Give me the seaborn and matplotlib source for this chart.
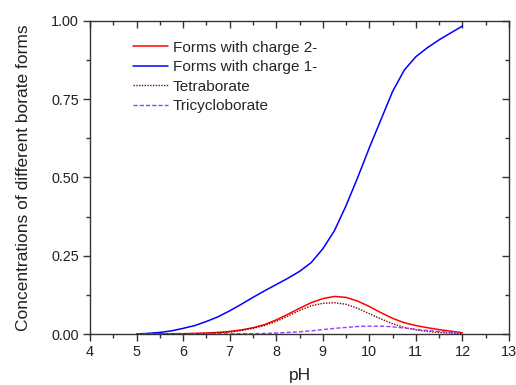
import matplotlib
matplotlib.use("Agg")
import matplotlib.pyplot as plt
from matplotlib.ticker import MultipleLocator, FormatStrFormatter
import seaborn as sns
import pandas as pd

pH = [5.0, 5.25, 5.5, 5.75, 6.0, 6.25, 6.5, 6.75, 7.0, 7.25, 7.5, 7.75, 8.0, 8.25,
      8.5, 8.75, 9.0, 9.25, 9.5, 9.75, 10.0, 10.25, 10.5, 10.75, 11.0, 11.25, 11.5,
      11.75, 12.0]
charge2 = [0.0, 0.0002, 0.0005, 0.0008, 0.001, 0.002, 0.003, 0.005, 0.008, 0.013,
           0.020, 0.030, 0.045, 0.063, 0.082, 0.100, 0.113, 0.120, 0.117, 0.105,
           0.088, 0.068, 0.050, 0.036, 0.027, 0.020, 0.014, 0.009, 0.004]
charge1 = [0.0, 0.002, 0.005, 0.010, 0.018, 0.027, 0.040, 0.055, 0.074, 0.095,
           0.117, 0.138, 0.158, 0.178, 0.200, 0.228, 0.272, 0.33, 0.41, 0.50,
           0.595, 0.685, 0.775, 0.843, 0.886, 0.915, 0.94, 0.962, 0.984]
tetraborate = [0.0, 0.0, 0.0001, 0.0003, 0.0005, 0.001, 0.002, 0.004, 0.006, 0.011,
               0.018, 0.027, 0.040, 0.057, 0.075, 0.090, 0.098, 0.100, 0.095, 0.082,
               0.065, 0.048, 0.033, 0.021, 0.013, 0.008, 0.005, 0.003, 0.001]
tricycloborate = [0.0, 0.0, 0.0, 0.0, 0.0001, 0.0002, 0.0003, 0.0004, 0.0005, 0.0008,
                  0.001, 0.002, 0.003, 0.005, 0.007, 0.010, 0.014, 0.018, 0.021, 0.024,
                  0.025, 0.025, 0.023, 0.019, 0.015, 0.011, 0.008, 0.005, 0.002]
labels = ["Forms with charge 2-", "Forms with charge 1-", "Tetraborate", "Tricycloborate"]

series = [charge2, charge1, tetraborate, tricycloborate]
df = pd.concat([pd.DataFrame({"pH": pH, "conc": s, "form": lab})
                for s, lab in zip(series, labels)], ignore_index=True)

sns.set_style("ticks")
plt.rcParams["font.family"] = ["Liberation Sans", "DejaVu Sans"]

fig = plt.figure(figsize=(5.16, 3.85), dpi=100)
ax = fig.add_axes([90/516, 1-334/385, 419/516, 313/385])

styles = {
    labels[0]: dict(color="#ff0000", linestyle="-", linewidth=1.1),
    labels[1]: dict(color="#0000ff", linestyle="-", linewidth=1.1),
    labels[2]: dict(color="#800000", linestyle=(0, (1, 1)), linewidth=1.0),
    labels[3]: dict(color="#9a3cff", linestyle=(0, (3, 1.5)), linewidth=1.0),
}
for lab in labels:
    sns.lineplot(data=df[df["form"] == lab], x="pH", y="conc", ax=ax, label=lab,
                 **styles[lab])

ax.set_xlim(4, 13)
ax.set_ylim(0, 1.0)
ax.xaxis.set_major_locator(MultipleLocator(1))
ax.xaxis.set_minor_locator(MultipleLocator(0.5))
ax.yaxis.set_major_locator(MultipleLocator(0.25))
ax.yaxis.set_minor_locator(MultipleLocator(0.125))
ax.yaxis.set_major_formatter(FormatStrFormatter("%.2f"))

for sp in ax.spines.values():
    sp.set_visible(True)
    sp.set_linewidth(1.0)
    sp.set_color("#333333")

ax.tick_params(which="major", direction="out", length=5, width=1, labelsize=10.4,
               colors="#333333", labelcolor="#222222", pad=3)
ax.tick_params(which="minor", direction="out", length=3, width=1, colors="#333333")

top = ax.secondary_xaxis("top")
top.xaxis.set_major_locator(MultipleLocator(1))
top.xaxis.set_minor_locator(MultipleLocator(0.5))
top.tick_params(which="major", direction="in", length=5, width=1, labeltop=False, colors="#333333")
top.tick_params(which="minor", direction="in", length=3, width=1, colors="#333333")
top.spines["top"].set_visible(False)
right = ax.secondary_yaxis("right")
right.yaxis.set_major_locator(MultipleLocator(0.25))
right.yaxis.set_minor_locator(MultipleLocator(0.125))
right.tick_params(which="major", direction="in", length=5, width=1, labelright=False, colors="#333333")
right.tick_params(which="minor", direction="in", length=3, width=1, colors="#333333")
right.spines["right"].set_visible(False)

ax.set_xlabel("pH", fontsize=12.5, color="#222222")
ax.set_ylabel("Concentrations of different borate forms", fontsize=12.5, color="#222222")
ax.yaxis.set_label_coords(-0.14, 0.5)
ax.xaxis.set_label_coords(0.5, -0.108)

ax.legend(loc="upper left", bbox_to_anchor=(0.1026, 0.937), frameon=False,
          fontsize=11.1, borderpad=0, borderaxespad=0, handlelength=2.27,
          handletextpad=0.33, labelspacing=0.36)

fig.savefig("out.png", dpi=100)
